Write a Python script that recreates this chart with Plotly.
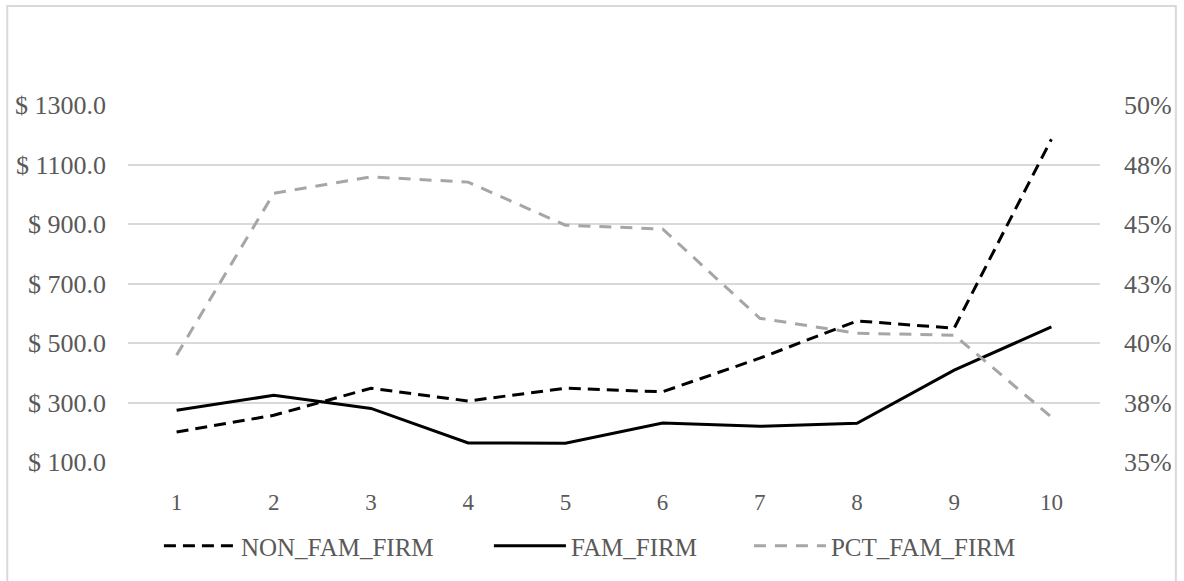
import plotly.graph_objects as go

categories = [1, 2, 3, 4, 5, 6, 7, 8, 9, 10]
non_fam_firm = [201, 257, 348, 305, 348, 336, 449, 574, 550, 1185]
fam_firm = [274, 324, 280, 164, 163, 231, 220, 230, 409, 554]
pct_fam_firm = [0.3949, 0.4629, 0.4698, 0.4676, 0.4495, 0.4479, 0.4104, 0.4041, 0.4033, 0.3689]

left_ticks = [100, 300, 500, 700, 900, 1100, 1300]
left_ticktext = ["$ 100.0", "$ 300.0", "$ 500.0", "$ 700.0", "$ 900.0", "$ 1100.0", "$ 1300.0"]
right_tickvals = [0.35, 0.375, 0.40, 0.425, 0.45, 0.475, 0.50]
right_ticktext = ["35%", "38%", "40%", "43%", "45%", "48%", "50%"]

W, H = 1184, 581
ML, MR, MT, MB = 128, 82, 105, 119
TXT = "#595959"
GRID = "#d9d9d9"
FONT = "Liberation Serif"

fig = go.Figure()
fig.add_trace(go.Scatter(x=categories, y=non_fam_firm, name="NON_FAM_FIRM", mode="lines",
                         line=dict(color="#000000", width=3, dash="12px,7px"),
                         legendwidth=243))
fig.add_trace(go.Scatter(x=categories, y=fam_firm, name="FAM_FIRM", mode="lines",
                         line=dict(color="#000000", width=3),
                         legendwidth=173))
fig.add_trace(go.Scatter(x=categories, y=pct_fam_firm, name="PCT_FAM_FIRM", mode="lines",
                         line=dict(color="#a6a6a6", width=3, dash="12px,9px"),
                         yaxis="y2"))

pw = W - ML - MR
ph = H - MT - MB
def px_x(p):
    return (p - ML) / pw
def px_y(p):
    return (H - MB - p) / ph

fig.update_layout(
    width=W, height=H,
    margin=dict(l=ML, r=MR, t=MT, b=MB),
    paper_bgcolor="white", plot_bgcolor="white",
    font=dict(family=FONT, color=TXT),
    showlegend=True,
    xaxis=dict(range=[0.5, 10.5], tickvals=categories, showgrid=False, zeroline=False,
               showline=False, ticks="", tickfont=dict(size=23, color=TXT, family=FONT),
               ticklabelstandoff=24),
    yaxis=dict(range=[100, 1300], tickvals=left_ticks, ticktext=left_ticktext,
               showgrid=True, gridcolor=GRID, gridwidth=1.5, zeroline=False, showline=False,
               ticks="", tickfont=dict(size=26, color=TXT, family=FONT),
               ticklabelstandoff=21),
    yaxis2=dict(range=[0.35, 0.50], overlaying="y", side="right", tickvals=right_tickvals,
                ticktext=right_ticktext, showgrid=False, zeroline=False, showline=False,
                ticks="", tickfont=dict(size=26, color=TXT, family=FONT),
                ticklabelstandoff=23),
    legend=dict(orientation="h", x=px_x(159), xanchor="left", y=px_y(546), yanchor="middle",
                font=dict(size=25, color=TXT, family=FONT), bgcolor="rgba(0,0,0,0)",
                itemwidth=72, tracegroupgap=0),
    shapes=[dict(type="rect", xref="paper", yref="paper",
                 x0=px_x(7), x1=px_x(1178), y0=px_y(582), y1=px_y(6),
                 line=dict(color="#d9d9d9", width=2), fillcolor="rgba(0,0,0,0)", layer="below")],
)

fig.write_html("out.html")
